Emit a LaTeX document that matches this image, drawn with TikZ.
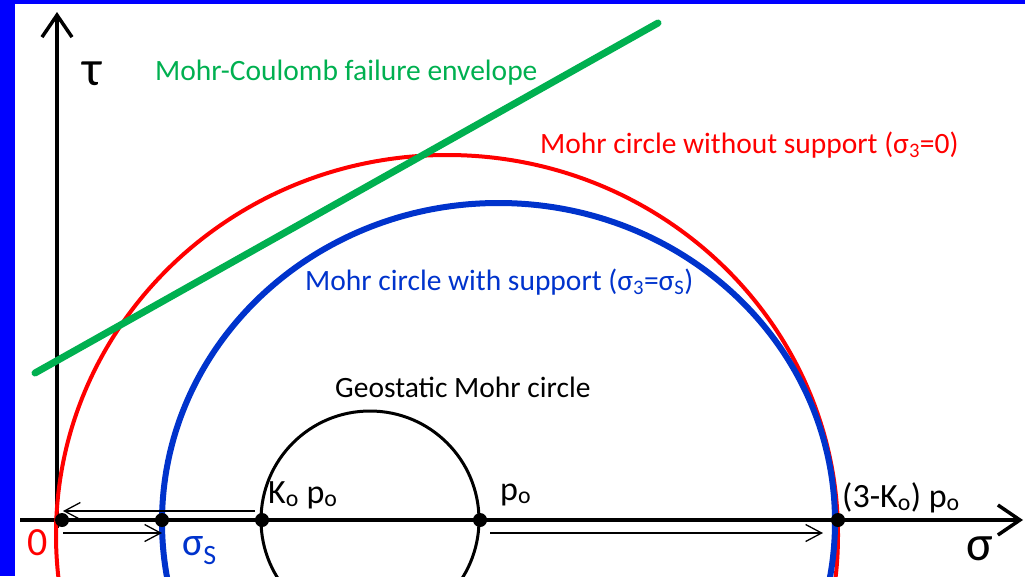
\documentclass[tikz,border=0pt]{standalone}
\usepackage{fontspec}
\setmainfont{Carlito}
\usepackage{tikz}
\usetikzlibrary{positioning, arrows.meta, calc}
\definecolor{mohr-red}{HTML}{FF0000}
\definecolor{mohr-blue}{HTML}{0033CC}
\definecolor{mohr-green}{HTML}{00B050}
\definecolor{frame-blue}{HTML}{0000FF}

\begin{document}
\begin{tikzpicture}[
    x=1pt, y=-1pt,
    txt/.style={font=\fontsize{29.5}{34}\selectfont, inner sep=0pt, anchor=base west},
    ptxt/.style={font=\fontsize{34}{40}\selectfont, inner sep=0pt, anchor=base west},
    bigtxt/.style={font=\fontsize{40}{46}\selectfont, inner sep=0pt, anchor=base west},
    axtxt/.style={font=\fontsize{50}{56}\selectfont, inner sep=0pt, anchor=base west},
    axis/.style={line width=3.5pt, -{Straight Barb[length=22pt, width=30pt, line width=3.5pt]}},
    arr/.style={line width=1.3pt, -{Straight Barb[length=16pt, width=17pt, line width=1.3pt]}},
    pdot/.style={circle, fill=black, inner sep=0pt, minimum size=14pt},
]
    \useasboundingbox (0,0) rectangle (1025,576);
    \clip (0,0) rectangle (1025,576);
    \fill[frame-blue] (0,0) rectangle (15,576);
    \fill[frame-blue] (0,0) rectangle (1025,4);

    % axes
    \coordinate (sstart) at (20,520);
    \coordinate (send) at (1023,520);
    \coordinate (tstart) at (57,528);
    \coordinate (tend) at (57,12);
    \draw[axis] (sstart) -- (send);
    \draw[axis] (tstart) -- (tend);

    % Mohr circles
    \draw[mohr-red, line width=4pt] (447,535) ellipse [x radius=391pt, y radius=380pt];
    \draw[mohr-blue, line width=6pt] (498.5,522) ellipse [x radius=336.5pt, y radius=319pt];
    \draw[line width=3pt] (370,520) circle [radius=109pt];

    % failure envelope
    \coordinate (env1) at (35,373);
    \coordinate (env2) at (658,23);
    \draw[mohr-green, line width=7pt, line cap=round] (env1) -- (env2);

    % stress points
    \node[pdot] (o)    at (62,520)  {};
    \node[pdot] (sigs) at (162,520) {};
    \node[pdot] (kp)   at (262,520) {};
    \node[pdot] (po)   at (480,520) {};
    \node[pdot] (tkp)  at (838,520) {};

    \draw[arr] ([shift={(-7,-9)}]kp.center) -- ([shift={(1,-9)}]o.center);
    \draw[arr] ([shift={(1,13)}]o.center) -- ([shift={(0,13)}]sigs.center);
    \draw[arr] ([shift={(10,13)}]po.center) -- ([shift={(-15,13)}]tkp.center);

    % labels
    \node[txt, text=mohr-green] (envl) at (155,80) {Mohr-Coulomb failure envelope};
    \node[txt, text=mohr-red] (nosupl) at (540,153) {Mohr circle without support (σ\textsubscript{3}=0)};
    \node[txt, text=mohr-blue] (supl) at (305,290) {Mohr circle with support (σ\textsubscript{3}=σ\textsubscript{S})};
    \node[txt] (geol) at (335,397) {Geostatic Mohr circle};
    \node[ptxt] (kpl) at (268,503) {K\textsubscript{o} p\textsubscript{o}};
    \node[ptxt] (pol) at (500,500) {p\textsubscript{o}};
    \node[ptxt] (tkpl) at (842,507) {(3-K\textsubscript{o}) p\textsubscript{o}};
    \node[bigtxt, text=mohr-red] (ol) at (27,555) {0};
    \node[bigtxt, text=mohr-blue] (sigsl) at (182,555) {σ\textsubscript{S}};
    \node[axtxt] (sigl) at (966,560) {σ};
    \node[axtxt] (taul) at (82,85) {τ};
\end{tikzpicture}
\end{document}
